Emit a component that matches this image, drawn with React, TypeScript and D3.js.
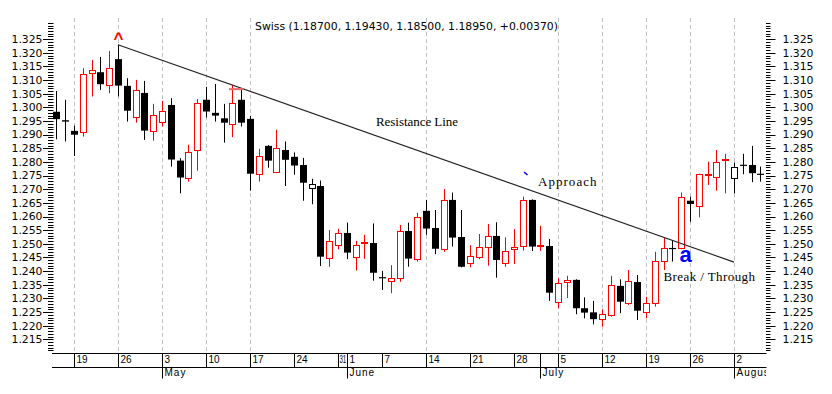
import React from 'react';
import * as d3 from 'd3';

// ---- data ----
const tradingDays: Date[] = d3
  .timeDays(new Date(2004, 3, 15), new Date(2004, 7, 6))
  .filter((d) => d.getDay() !== 0 && d.getDay() !== 6);
const fmt = d3.timeFormat('%Y-%m-%d');
const dateKeys: string[] = tradingDays.map((d) => fmt(d));

const opens = [
  1.2984, 1.2953, 1.2914, 1.2909, 1.3125, 1.3129, 1.3081, 1.3177, 1.3079, 1.2964,
  1.3053, 1.2913, 1.2946, 1.3009, 1.2805, 1.2740, 1.2843, 1.3028, 1.2980, 1.2960,
  1.2938, 1.3028, 1.2958, 1.2755, 1.2859, 1.2765, 1.2844, 1.2819, 1.2789, 1.2704,
  1.2712, 1.2447, 1.2495, 1.2540, 1.2453, 1.2504, 1.2503, 1.2378, 1.2363, 1.2374,
  1.2547, 1.2444, 1.2621, 1.2558, 1.2481, 1.2661, 1.2525, 1.2429, 1.2453, 1.2488,
  1.2529, 1.2431, 1.2480, 1.2492, 1.2661, 1.2493, 1.2492, 1.2286, 1.2360, 1.2368,
  1.2264, 1.2249, 1.2225, 1.2239, 1.2346, 1.2282, 1.2360, 1.2251, 1.2282, 1.2437,
  1.2485, 1.2484, 1.2658, 1.2639, 1.2755, 1.2744, 1.2806, 1.2740, 1.2790, 1.2789,
  1.2757,
];
const highs = [
  1.3060, 1.3028, 1.2933, 1.3144, 1.3174, 1.3185, 1.3207, 1.3229, 1.3107, 1.3101,
  1.3097, 1.3013, 1.3024, 1.3034, 1.2814, 1.2863, 1.3031, 1.3076, 1.3086, 1.3013,
  1.3082, 1.3070, 1.2969, 1.2848, 1.2862, 1.2918, 1.2875, 1.2835, 1.2815, 1.2738,
  1.2732, 1.2551, 1.2555, 1.2578, 1.2511, 1.2533, 1.2575, 1.2401, 1.2422, 1.2569,
  1.2578, 1.2614, 1.2661, 1.2624, 1.2701, 1.2688, 1.2624, 1.2495, 1.2536, 1.2573,
  1.2579, 1.2524, 1.2554, 1.2673, 1.2663, 1.2566, 1.2518, 1.2374, 1.2383, 1.2370,
  1.2304, 1.2291, 1.2260, 1.2383, 1.2370, 1.2404, 1.2386, 1.2306, 1.2471, 1.2521,
  1.2514, 1.2688, 1.2673, 1.2757, 1.2801, 1.2844, 1.2830, 1.2798, 1.2830, 1.2859,
  1.2783,
];
const lows = [
  1.2883, 1.2875, 1.2822, 1.2893, 1.3040, 1.3064, 1.3052, 1.3040, 1.2948, 1.2944,
  1.2881, 1.2878, 1.2930, 1.2783, 1.2685, 1.2728, 1.2768, 1.2963, 1.2948, 1.2871,
  1.2891, 1.2930, 1.2695, 1.2728, 1.2779, 1.2764, 1.2712, 1.2753, 1.2658, 1.2645,
  1.2419, 1.2416, 1.2480, 1.2444, 1.2402, 1.2445, 1.2365, 1.2331, 1.2319, 1.2361,
  1.2416, 1.2435, 1.2533, 1.2462, 1.2471, 1.2490, 1.2414, 1.2414, 1.2444, 1.2420,
  1.2376, 1.2416, 1.2426, 1.2475, 1.2474, 1.2474, 1.2291, 1.2264, 1.2301, 1.2242,
  1.2227, 1.2205, 1.2197, 1.2233, 1.2246, 1.2276, 1.2221, 1.2227, 1.2270, 1.2404,
  1.2435, 1.2480, 1.2581, 1.2597, 1.2716, 1.2695, 1.2685, 1.2685, 1.2755, 1.2726,
  1.2728,
];
const closes = [
  1.2957, 1.2948, 1.2900, 1.3122, 1.3136, 1.3085, 1.3144, 1.3080, 1.2988, 1.3063,
  1.2915, 1.2971, 1.2987, 1.2809, 1.2743, 1.2836, 1.3015, 1.2985, 1.2970, 1.2944,
  1.3015, 1.2944, 1.2757, 1.2822, 1.2805, 1.2850, 1.2808, 1.2787, 1.2724, 1.2720,
  1.2453, 1.2511, 1.2539, 1.2468, 1.2495, 1.2508, 1.2394, 1.2375, 1.2374, 1.2546,
  1.2446, 1.2597, 1.2556, 1.2482, 1.2661, 1.2523, 1.2416, 1.2455, 1.2488, 1.2528,
  1.2441, 1.2474, 1.2489, 1.2661, 1.2490, 1.2497, 1.2321, 1.2356, 1.2368, 1.2264,
  1.2248, 1.2224, 1.2242, 1.2348, 1.2288, 1.2364, 1.2255, 1.2282, 1.2437, 1.2486,
  1.2483, 1.2671, 1.2646, 1.2756, 1.2757, 1.2801, 1.2810, 1.2783, 1.2788, 1.2759,
  1.2755,
];
// U = red hollow (up), D = black filled (down), B = black hollow
const kinds = [
  'D', 'D', 'D', 'U', 'U', 'D', 'U', 'D', 'D', 'U',
  'D', 'U', 'U', 'D', 'D', 'U', 'U', 'D', 'D', 'D',
  'U', 'D', 'D', 'U', 'D', 'U', 'D', 'D', 'D', 'B',
  'D', 'U', 'U', 'D', 'U', 'U', 'D', 'D', 'U', 'U',
  'D', 'U', 'D', 'D', 'U', 'D', 'D', 'U', 'U', 'U',
  'D', 'U', 'U', 'U', 'D', 'U', 'D', 'U', 'U', 'D',
  'D', 'D', 'U', 'U', 'D', 'U', 'D', 'U', 'U', 'U',
  'D', 'U', 'D', 'U', 'U', 'U', 'U', 'B', 'D', 'D',
  'D',
];

const weekTickDates = [
  '2004-04-19', '2004-04-26', '2004-05-03', '2004-05-10', '2004-05-17', '2004-05-24',
  '2004-05-31', '2004-06-01', '2004-06-07', '2004-06-14', '2004-06-21', '2004-06-28',
  '2004-07-01', '2004-07-05', '2004-07-12', '2004-07-19', '2004-07-26', '2004-08-02',
];
const weekTickLabels = [
  '19', '26', '3', '10', '17', '24', '31', '1', '7', '14', '21', '28', '', '5', '12', '19', '26', '2',
];
const monthTickDates = ['2004-05-03', '2004-06-01', '2004-07-01', '2004-08-02'];
const monthLabels = ['May', 'June', 'July', 'August'];
const gridDates = [
  '2004-04-19', '2004-04-26', '2004-05-03', '2004-05-10', '2004-05-17', '2004-06-14',
  '2004-07-05', '2004-07-12', '2004-07-19', '2004-07-26', '2004-08-02',
];
const resistanceDates = ['2004-04-26', '2004-08-02'];
const resistanceValues = [1.323, 1.2433];
const touchDates = ['2004-05-13', '2004-05-14'];
const touchValue = 1.3067;
const yLabelValues = [
  1.215, 1.22, 1.225, 1.23, 1.235, 1.24, 1.245, 1.25, 1.255, 1.26, 1.265, 1.27, 1.275,
  1.28, 1.285, 1.29, 1.295, 1.3, 1.305, 1.31, 1.315, 1.32, 1.325,
];
const minorTickValues = d3.range(1211, 1332).map((v) => v / 1000);
const title = 'Swiss  (1.18700, 1.19430, 1.18500, 1.18950, +0.00370)';

export default function App() {
  const W = 832;
  const H = 394;
  const plotLeft = 53;
  const plotRight = 766;
  const plotTop = 22;
  const plotBottom = 353;

  const x = d3.scalePoint<string>().domain(dateKeys).range([56.4, 760.4]);
  const y = d3.scaleLinear().domain([1.21, 1.3313]).range([plotBottom, plotTop]);
  const px = (k: string) => Math.round(x(k) as number);

  const red = '#ff0000';
  const sans = '"DejaVu Sans", sans-serif';
  const arial = '"Liberation Sans", Arial, sans-serif';
  const serif = '"Liberation Serif", "Times New Roman", serif';

  const candles = dateKeys.map((k, i) => {
    const cx = px(k);
    const o = opens[i];
    const c = closes[i];
    const kind = kinds[i];
    const col = kind === 'U' ? red : '#000';
    const yTop = y(Math.max(o, c));
    const yBot = y(Math.min(o, c));
    const wick = (
      <line
        key={'w' + i}
        x1={cx + 0.5}
        x2={cx + 0.5}
        y1={y(highs[i])}
        y2={y(lows[i])}
        stroke={col}
        strokeWidth={1}
      />
    );
    let body;
    if (kind === 'D') {
      const h = Math.max(yBot - yTop, 1.2);
      body = <rect key={'b' + i} x={cx - 3} y={yTop} width={7} height={h} fill="#000" />;
    } else {
      const t = Math.round(yTop) + 0.5;
      const b = Math.max(Math.round(yBot) + 0.5, t + 1);
      body = (
        <rect
          key={'b' + i}
          x={cx - 2.5}
          y={t}
          width={6}
          height={b - t}
          fill="#fff"
          stroke={col}
          strokeWidth={1}
        />
      );
    }
    return (
      <g key={k}>
        {wick}
        {body}
      </g>
    );
  });

  return (
    <svg
      width={W}
      height={H}
      style={{ position: 'absolute', left: 0, top: 0, background: '#fff' }}
      xmlns="http://www.w3.org/2000/svg"
    >
      <defs>
        <clipPath id="xclip">
          <rect x={0} y={350} width={plotRight} height={44} />
        </clipPath>
      </defs>
      <rect x={0} y={0} width={W} height={H} fill="#fff" />

      {/* gridlines */}
      {gridDates.map((d) => (
        <line
          key={'g' + d}
          x1={px(d) + 0.5}
          x2={px(d) + 0.5}
          y1={18}
          y2={plotBottom}
          stroke="#c0c0c0"
          strokeWidth={1}
          strokeDasharray="4,3"
        />
      ))}

      {/* title */}
      <text x={255} y={30} fontFamily={sans} fontSize={10} textLength={303} lengthAdjust="spacingAndGlyphs" fill="#000">
        {title}
      </text>

      {/* y axes ticks */}
      {minorTickValues.map((v) => {
        const yy = Math.round(y(v)) + 0.5;
        const major = yLabelValues.some((m) => Math.abs(m - v) < 1e-6);
        return (
          <g key={'t' + v}>
            <line x1={major ? 43 : 48} x2={plotLeft + 0.5} y1={yy} y2={yy} stroke="#000" strokeWidth={1} />
            <line x1={plotRight} x2={major ? 775.5 : 770.5} y1={yy} y2={yy} stroke="#000" strokeWidth={1} />
          </g>
        );
      })}
      {yLabelValues.map((v) => (
        <g key={'l' + v}>
          <text
            x={42.5}
            y={y(v) + 3.8}
            textAnchor="end"
            fontFamily={sans}
            fontSize={9.6}
            textLength={31}
            lengthAdjust="spacingAndGlyphs"
            fill="#000"
          >
            {v.toFixed(3)}
          </text>
          <text
            x={782.5}
            y={y(v) + 3.8}
            fontFamily={sans}
            fontSize={9.6}
            textLength={31}
            lengthAdjust="spacingAndGlyphs"
            fill="#000"
          >
            {v.toFixed(3)}
          </text>
        </g>
      ))}

      {/* x axis */}
      <line x1={52} x2={plotRight + 0.5} y1={353.5} y2={353.5} stroke="#000" strokeWidth={1} />
      <line x1={52} x2={plotRight + 0.5} y1={367.5} y2={367.5} stroke="#000" strokeWidth={1} />
      {weekTickDates.map((d, i) => {
        const x0 = px(d);
        const next = i < weekTickDates.length - 1 ? px(weekTickDates[i + 1]) : plotRight;
        const gap = next - x0;
        const label = weekTickLabels[i];
        const natural = label.length * 5.56;
        const squeeze = natural > gap - 2.5;
        return (
          <g key={'wt' + d}>
            <line x1={x0 + 0.5} x2={x0 + 0.5} y1={353} y2={367} stroke="#000" strokeWidth={1} />
            {label && (
              <text
                x={squeeze ? x0 + 1.4 : x0 + 2.5}
                y={362.5}
                fontFamily={arial}
                fontSize={10}
                fill="#000"
                {...(squeeze ? { textLength: gap - 2.2, lengthAdjust: 'spacingAndGlyphs' } : {})}
              >
                {label}
              </text>
            )}
          </g>
        );
      })}
      <g clipPath="url(#xclip)">
        {monthTickDates.map((d, i) => (
          <g key={'mt' + d}>
            <line x1={px(d) + 0.5} x2={px(d) + 0.5} y1={353} y2={378.5} stroke="#000" strokeWidth={1} />
            <text x={px(d) + 2.5} y={375.5} fontFamily={arial} fontSize={10} letterSpacing={1} fill="#000">
              {monthLabels[i]}
            </text>
          </g>
        ))}
      </g>

      {/* candles */}
      {candles}

      {/* resistance line */}
      <line
        x1={x(resistanceDates[0]) as number}
        y1={y(resistanceValues[0])}
        x2={x(resistanceDates[1]) as number}
        y2={y(resistanceValues[1])}
        stroke="#222"
        strokeWidth={1.1}
      />
      {/* touch marker */}
      <line
        x1={(x(touchDates[0]) as number) - 3.4}
        x2={(x(touchDates[1]) as number) + 2}
        y1={y(touchValue)}
        y2={y(touchValue)}
        stroke="#f06868"
        strokeWidth={2}
      />

      {/* annotations */}
      <text x={118.5} y={43.5} textAnchor="middle" fontFamily={arial} fontWeight="bold" fontSize={17} fill={red}>
        ^
      </text>
      <text x={376} y={126} fontFamily={serif} fontSize={13} textLength={82} lengthAdjust="spacing" fill="#000">
        Resistance Line
      </text>
      <line x1={524} y1={172} x2={527.5} y2={175} stroke="#0000ff" strokeWidth={1.6} />
      <text x={538} y={186} fontFamily={serif} fontSize={13} textLength={58.5} lengthAdjust="spacing" fill="#000">
        Approach
      </text>
      <text x={663.5} y={281} fontFamily={serif} fontSize={13} textLength={91.5} lengthAdjust="spacing" fill="#000">
        Break / Through
      </text>
      <text x={679.5} y={262} fontFamily={arial} fontWeight="bold" fontSize={22} fill="#0000ff">
        a
      </text>
    </svg>
  );
}
